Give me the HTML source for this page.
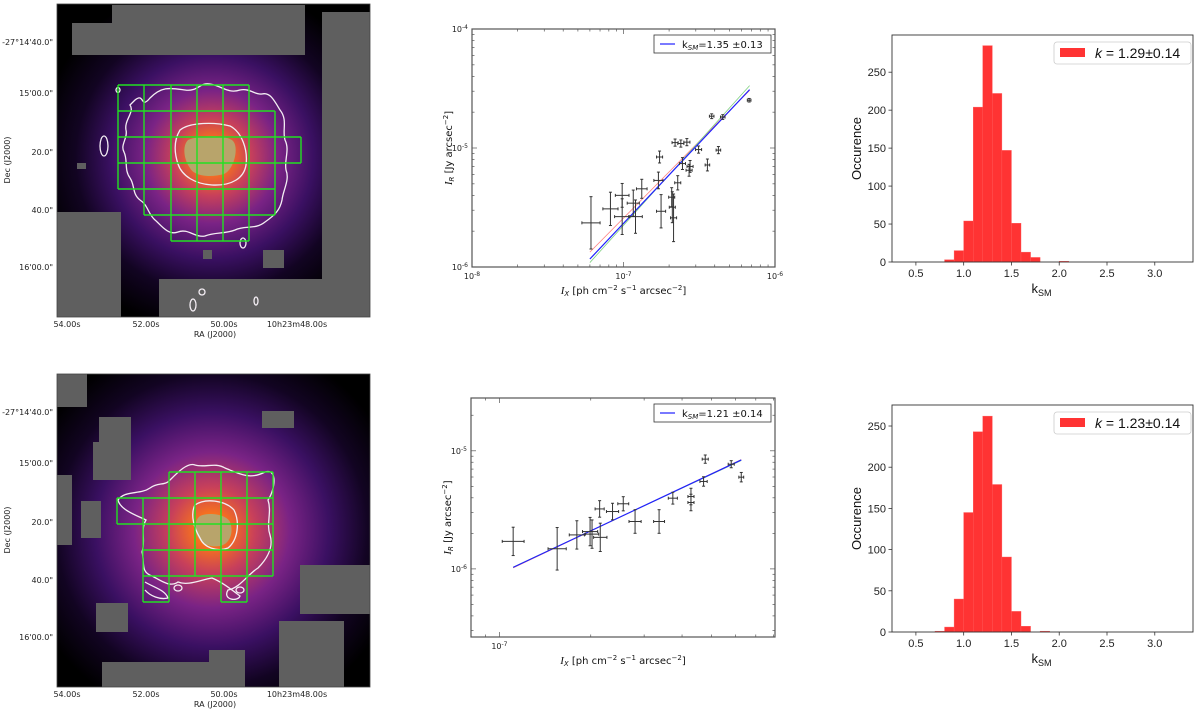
<!DOCTYPE html>
<html><head><meta charset="utf-8">
<style>
html,body{margin:0;padding:0;background:#fff;}
svg{display:block;font-family:"DejaVu Sans","Liberation Sans",sans-serif;}
</style></head>
<body>
<svg id="fig" width="1200" height="711" viewBox="0 0 1200 711" xmlns="http://www.w3.org/2000/svg">
<defs>
  <radialGradient id="glowTop" cx="212" cy="157" r="175" gradientUnits="userSpaceOnUse">
    <stop offset="0" stop-color="#ffa800"/>
    <stop offset="0.1" stop-color="#f57020"/>
    <stop offset="0.22" stop-color="#c8405a"/>
    <stop offset="0.38" stop-color="#7a2385"/>
    <stop offset="0.58" stop-color="#3a1062"/>
    <stop offset="0.78" stop-color="#120422"/>
    <stop offset="1" stop-color="#000"/>
  </radialGradient>
  <radialGradient id="glowBot" cx="212" cy="530" r="195" gradientUnits="userSpaceOnUse">
    <stop offset="0" stop-color="#ffa800"/>
    <stop offset="0.09" stop-color="#f57020"/>
    <stop offset="0.22" stop-color="#c8405a"/>
    <stop offset="0.4" stop-color="#7a2385"/>
    <stop offset="0.6" stop-color="#3a1062"/>
    <stop offset="0.8" stop-color="#120422"/>
    <stop offset="1" stop-color="#000"/>
  </radialGradient>
</defs>

<!-- TOP IMAGE -->
<g>
  <rect x="57" y="4" width="313" height="313" fill="url(#glowTop)"/>
  <g fill="#5f5f5f">
    <path d="M112,5 H305 V55 H72 V23 H112 Z"/>
    <rect x="322" y="12" width="48" height="305"/>
    <rect x="57" y="212" width="64" height="105"/>
    <rect x="159" y="279" width="165" height="38"/>
    <rect x="77" y="163" width="9" height="6"/>
    <rect x="203" y="250" width="9" height="9"/>
    <rect x="263" y="250" width="21" height="18"/>
  </g>
  <path d="M188,140 C196,136 222,134 232,140 C240,146 234,170 224,174 C210,178 194,176 190,168 C184,160 182,146 188,140Z" fill="#b8a46b"/>
  <g fill="none" stroke="#f4eef4" stroke-width="1.3">
    <path d="M135,100 C145,92 140,110 150,98 C162,86 170,88 185,90 C198,92 200,82 210,84 C222,86 228,94 240,90 C250,88 255,95 262,94 C270,92 274,100 280,110 C288,120 282,130 285,140 C290,150 284,160 286,170 C290,180 283,190 282,200 C280,210 275,215 265,222 C255,230 245,225 235,230 C225,234 215,232 205,236 C195,238 188,228 178,232 C168,236 160,224 155,220 C148,214 148,205 140,200 C132,194 135,185 130,178 C124,170 128,160 124,152 C120,145 128,138 126,130 C124,120 135,112 130,105 Z"/>
    <path d="M180,130 C190,122 215,122 230,126 C242,132 248,150 246,165 C244,178 232,186 212,185 C195,184 182,176 178,164 C174,152 174,140 180,130 Z"/>
    <ellipse cx="104" cy="146" rx="4" ry="10"/>
    <ellipse cx="118" cy="90" rx="2" ry="2.5"/>
    <ellipse cx="243" cy="243" rx="3" ry="5"/>
    <ellipse cx="193" cy="305" rx="3" ry="6"/>
    <ellipse cx="202" cy="292" rx="3" ry="3"/>
    <ellipse cx="256" cy="301" rx="2" ry="4"/>
  </g>
  <g fill="none" stroke="#22e022" stroke-width="1.4">
    <path d="M118,85 H249 M118,111 H275 M118,137 H301 M118,163 H301 M118,189 H275 M144,215 H275 M171,241 H249"/>
    <path d="M118,85 V189 M144,85 V215 M171,85 V241 M197,85 V241 M223,85 V241 M249,85 V241 M275,111 V215 M301,137 V163"/>
  </g>
  <rect x="57" y="4" width="313" height="313" fill="none" stroke="#444" stroke-width="0.8"/>
  <g font-size="8" fill="#222" text-anchor="end">
    <text x="53" y="45">-27°14'40.0"</text><text x="53" y="96">15'00.0"</text>
    <text x="53" y="155">20.0"</text><text x="53" y="213">40.0"</text><text x="53" y="270">16'00.0"</text>
  </g>
  <g font-size="8" fill="#222" text-anchor="middle">
    <text x="67" y="327">54.00s</text><text x="146" y="327">52.00s</text>
    <text x="224" y="327">50.00s</text><text x="297" y="327">10h23m48.00s</text>
    <text x="215" y="337">RA (J2000)</text>
  </g>
  <text transform="translate(10,160) rotate(-90)" font-size="8" fill="#222" text-anchor="middle">Dec (J2000)</text>
</g>

<!-- BOTTOM IMAGE -->
<g>
  <rect x="57" y="374" width="313" height="313" fill="url(#glowBot)"/>
  <g fill="#5f5f5f">
    <rect x="57" y="374" width="30" height="33"/>
    <path d="M99,417 H131 V480 H93 V442 H99 Z"/>
    <rect x="57" y="475" width="15" height="70"/>
    <rect x="81" y="501" width="20" height="37"/>
    <rect x="262" y="411" width="32" height="17"/>
    <rect x="300" y="565" width="70" height="49"/>
    <rect x="279" y="621" width="65" height="66"/>
    <rect x="96" y="603" width="32" height="29"/>
    <path d="M102,662 H209 V650 H245 V687 H102 Z"/>
  </g>
  <path d="M200,516 C208,512 226,514 230,522 C234,532 230,544 220,546 C208,548 198,542 196,532 C195,524 196,519 200,516Z" fill="#b8a46b"/>
  <g fill="none" stroke="#f4eef4" stroke-width="1.3">
    <path d="M170,480 C178,472 188,462 195,465 C205,468 215,462 225,468 C240,474 250,480 265,472 C278,468 275,490 268,500 C272,512 266,524 270,535 C274,548 266,560 258,568 C248,574 240,588 228,590 C222,600 238,602 240,596 C232,590 222,582 212,578 C200,580 188,586 178,582 C170,588 160,580 152,576 C140,572 145,562 142,552 C146,540 140,530 146,520 C138,516 120,510 118,500 C125,490 140,495 150,488 C158,482 165,486 170,480 Z"/>
    <path d="M195,505 C205,498 225,500 234,510 C240,522 238,540 228,548 C218,552 204,548 200,538 C194,528 190,514 195,505 Z"/>
    <ellipse cx="178" cy="588" rx="4" ry="3"/>
    <ellipse cx="240" cy="590" rx="4" ry="3"/>
    <path d="M145,582 C155,588 165,590 168,598 C160,600 150,596 145,590"/>
  </g>
  <g fill="none" stroke="#22e022" stroke-width="1.4">
    <path d="M169,472 H273 M117,498 H273 M117,524 H273 M143,550 H273 M143,576 H273 M143,602 H169 M221,602 H247"/>
    <path d="M117,498 V524 M143,498 V602 M169,472 V602 M195,472 V576 M221,472 V602 M247,472 V602 M273,472 V576"/>
  </g>
  <rect x="57" y="374" width="313" height="313" fill="none" stroke="#444" stroke-width="0.8"/>
  <g font-size="8" fill="#222" text-anchor="end">
    <text x="53" y="415">-27°14'40.0"</text><text x="53" y="466">15'00.0"</text>
    <text x="53" y="525">20.0"</text><text x="53" y="583">40.0"</text><text x="53" y="640">16'00.0"</text>
  </g>
  <g font-size="8" fill="#222" text-anchor="middle">
    <text x="67" y="697">54.00s</text><text x="146" y="697">52.00s</text>
    <text x="224" y="697">50.00s</text><text x="297" y="697">10h23m48.00s</text>
    <text x="215" y="707">RA (J2000)</text>
  </g>
  <text transform="translate(10,530) rotate(-90)" font-size="8" fill="#222" text-anchor="middle">Dec (J2000)</text>
</g>

<g id="charts"></g>
</svg>

<script>
// ---- Scatter 1 data (top) ----
const s1X = [6.1e-8,8.2e-8,9.8e-8,9.8e-8,1.16e-7,1.2e-7,1.32e-7,1.73e-7,1.7e-7,1.77e-7,2.08e-7,2.1e-7,2.14e-7,2.19e-7,2.39e-7,2.62e-7,2.28e-7,2.45e-7,2.71e-7,2.75e-7,3.13e-7,3.58e-7,3.82e-7,4.23e-7,4.52e-7,6.75e-7];
const s1Y = [2.35e-6,3.08e-6,4.0e-6,2.65e-6,3.44e-6,2.65e-6,4.54e-6,8.4e-6,5.34e-6,2.94e-6,3.86e-6,3.18e-6,2.59e-6,1.11e-5,1.09e-5,1.12e-5,5.1e-6,7.4e-6,6.5e-6,7.0e-6,9.7e-6,7.2e-6,1.85e-5,9.6e-6,1.82e-5,2.52e-5];
const s1Xerr = [0.06,0.05,0.045,0.05,0.04,0.045,0.035,0.02,0.03,0.03,0.02,0.02,0.02,0.02,0.02,0.02,0.02,0.02,0.02,0.02,0.02,0.015,0.015,0.015,0.015,0.012];
const s1Yerr = [0.22,0.14,0.1,0.15,0.11,0.14,0.08,0.05,0.07,0.14,0.08,0.13,0.2,0.03,0.03,0.03,0.06,0.05,0.05,0.05,0.03,0.05,0.02,0.03,0.02,0.015];
const s1Fit = {blue:[5.93e-6,1.35],red:[6.3e-6,1.29],green:[5.95e-6,1.41]};
const s1Range = [6.0e-8,6.8e-7];
const s1Xticks = [1e-8,1e-7,1e-6];
const s1XtickExp = ["-8","-7","-6"];
const s1Yticks = [1e-6,1e-5,1e-4];
const s1YtickExp = ["-6","-5","-4"];

// ---- Scatter 2 data (bottom) ----
const s2X = [1.11e-7,1.55e-7,1.8e-7,1.99e-7,2.02e-7,2.15e-7,2.14e-7,2.36e-7,2.56e-7,2.8e-7,3.36e-7,3.73e-7,4.28e-7,4.28e-7,4.71e-7,4.77e-7,5.81e-7,6.27e-7];
const s2Y = [1.71e-6,1.48e-6,1.94e-6,2.07e-6,1.97e-6,1.85e-6,3.22e-6,3.06e-6,3.56e-6,2.52e-6,2.52e-6,3.97e-6,4.1e-6,3.65e-6,5.5e-6,8.5e-6,7.7e-6,5.98e-6];
const s2Xerr = [0.036,0.03,0.025,0.025,0.022,0.022,0.015,0.02,0.018,0.02,0.018,0.015,0.01,0.01,0.012,0.01,0.01,0.008];
const s2Yerr = [0.12,0.18,0.12,0.12,0.12,0.12,0.07,0.07,0.06,0.1,0.1,0.05,0.07,0.07,0.04,0.035,0.03,0.04];
const s2Fit = {blue:[2.1e-6,1.21],red:[2.09e-6,1.22],green:[2.1e-6,1.2]};
const s2Range = [1.11e-7,6.27e-7];
const s2Xticks = [1e-7];
const s2XtickExp = ["-7"];
const s2Yticks = [1e-6,1e-5];
const s2YtickExp = ["-6","-5"];

// ---- Histogram data ----
const h1Start = 0.8;
const h1Counts = [3,15,54,204,285,222,147,51,13,6,0,0,1];
const h2Start = 0.7;
const h2Counts = [1,6,40,145,243,262,179,91,25,7,0,1];
const binWidth = 0.1;
const histXticks = [0.5,1.0,1.5,2.0,2.5,3.0];
const histYticks1 = [0,50,100,150,200,250];
const histYticks2 = [0,50,100,150,200,250];

const NS = "http://www.w3.org/2000/svg";
const root = document.getElementById('charts');
function mk(tag, attrs, parent){
  const e = document.createElementNS(NS, tag);
  for (const k in attrs) e.setAttribute(k, attrs[k]);
  (parent||root).appendChild(e);
  return e;
}

function scatter(cfg){
  const g = mk('g', {});
  
  
  const L=cfg.L,R=cfg.R,T=cfg.T,B=cfg.B;
  const lx0=Math.log10(cfg.xmin), lx1=Math.log10(cfg.xmax), ly0=Math.log10(cfg.ymin), ly1=Math.log10(cfg.ymax);
  const sx = v => L + (Math.log10(v)-lx0)/(lx1-lx0)*(R-L);
  const sy = v => B - (Math.log10(v)-ly0)/(ly1-ly0)*(B-T);
  const frame = mk('rect',{x:L,y:T,width:R-L,height:B-T,fill:'none',stroke:'#555','stroke-width':1.2},g);
  
  
  for (let d=Math.floor(lx0); d<=Math.ceil(lx1); d++){
    for (let m=1;m<10;m++){
      const v=m*Math.pow(10,d);
      if (Math.log10(v)<lx0-1e-9||Math.log10(v)>lx1+1e-9) continue;
      const x=sx(v), len=m===1?5:2.5;
      mk('line',{x1:x,x2:x,y1:B,y2:B-len,stroke:'#555','stroke-width':0.7},g);
      mk('line',{x1:x,x2:x,y1:T,y2:T+len,stroke:'#555','stroke-width':0.7},g);
    }
  }
  for (let d=Math.floor(ly0); d<=Math.ceil(ly1); d++){
    for (let m=1;m<10;m++){
      const v=m*Math.pow(10,d);
      if (Math.log10(v)<ly0-1e-9||Math.log10(v)>ly1+1e-9) continue;
      const y=sy(v), len=m===1?5:2.5;
      mk('line',{x1:L,x2:L+len,y1:y,y2:y,stroke:'#555','stroke-width':0.7},g);
      mk('line',{x1:R,x2:R-len,y1:y,y2:y,stroke:'#555','stroke-width':0.7},g);
    }
  }
  cfg.xt.forEach((v,i)=>{
    const t=mk('text',{x:sx(v),y:B+12,'font-size':8,'text-anchor':'middle',fill:'#222'},g);
    t.textContent='10';
    const s=mk('tspan',{dy:-3,'font-size':6},t); s.textContent=cfg.xte[i];
    
    
  });
  cfg.yt.forEach((v,i)=>{
    const t=mk('text',{x:L-4,y:sy(v)+3,'font-size':8,'text-anchor':'end',fill:'#222'},g);
    t.textContent='10';
    const s=mk('tspan',{dy:-3,'font-size':6},t); s.textContent=cfg.yte[i];
    
    
  });
  const cols={red:'#ff8080',green:'#80d080',blue:'#2020ff'};
  ['red','green','blue'].forEach(c=>{
    const [A,k]=cfg.fit[c];
    const f=v=>A*Math.pow(v/cfg.x0,k);
    const ln=mk('line',{x1:sx(cfg.range[0]),y1:sy(f(cfg.range[0])),x2:sx(cfg.range[1]),y2:sy(f(cfg.range[1])),stroke:cols[c],'stroke-width':c==='blue'?1.2:0.8},g);
    
    
  });
  cfg.xs.forEach((xv,i)=>{
    const yv=cfg.ys[i], ex=cfg.xe[i], ey=cfg.ye[i];
    const pg=mk('g',{stroke:'#333','stroke-width':1},g);
    
    
    const x1=sx(xv*Math.pow(10,-ex)), x2=sx(xv*Math.pow(10,ex));
    const y1=sy(yv*Math.pow(10,-ey)), y2=sy(yv*Math.pow(10,ey));
    const cx=sx(xv), cy=sy(yv);
    mk('line',{x1:x1,x2:x2,y1:cy,y2:cy},pg);
    mk('line',{x1:cx,x2:cx,y1:y1,y2:y2},pg);
    mk('line',{x1:cx-1.5,x2:cx+1.5,y1:y1,y2:y1},pg);
    mk('line',{x1:cx-1.5,x2:cx+1.5,y1:y2,y2:y2},pg);
    mk('line',{x1:x1,x2:x1,y1:cy-1.5,y2:cy+1.5},pg);
    mk('line',{x1:x2,x2:x2,y1:cy-1.5,y2:cy+1.5},pg);
  });
  const lg=mk('g',{},g);
  
  
  mk('rect',{x:cfg.lgx,y:cfg.lgy,width:117,height:18,fill:'#fff',stroke:'#333','stroke-width':0.8},lg);
  mk('line',{x1:cfg.lgx+6,x2:cfg.lgx+21,y1:cfg.lgy+9,y2:cfg.lgy+9,stroke:'#2020ff','stroke-width':1.2},lg);
  const lt=mk('text',{x:cfg.lgx+28,y:cfg.lgy+13,'font-size':10,fill:'#111'},lg);
  lt.textContent='k';
  const sb=mk('tspan',{dy:2,'font-size':7,'font-style':'italic'},lt); sb.textContent='SM';
  const rest=mk('tspan',{dy:-2},lt); rest.textContent=cfg.label;
  const xt=mk('text',{x:(L+R)/2,y:B+27,'font-size':10,'text-anchor':'middle',fill:'#111'},g);
  
  
  const a=mk('tspan',{'font-style':'italic','font-family':'Liberation Serif, serif','font-size':11},xt); a.textContent='I';
  const a2=mk('tspan',{'font-style':'italic','font-size':7,dy:2},xt); a2.textContent='X';
  const a3=mk('tspan',{dy:-2},xt); a3.textContent=' [ph cm';
  const a4=mk('tspan',{dy:-4,'font-size':7},xt); a4.textContent='−2';
  const a5=mk('tspan',{dy:4},xt); a5.textContent=' s';
  const a6=mk('tspan',{dy:-4,'font-size':7},xt); a6.textContent='−1';
  const a7=mk('tspan',{dy:4},xt); a7.textContent='  arcsec';
  const a8=mk('tspan',{dy:-4,'font-size':7},xt); a8.textContent='−2';
  const a9=mk('tspan',{dy:4},xt); a9.textContent=']';
  const yt=mk('text',{transform:`translate(${L-20},${(T+B)/2}) rotate(-90)`,'font-size':10,'text-anchor':'middle',fill:'#111'},g);
  
  
  const b=mk('tspan',{'font-style':'italic','font-family':'Liberation Serif, serif','font-size':11},yt); b.textContent='I';
  const b2=mk('tspan',{'font-style':'italic','font-size':7,dy:2},yt); b2.textContent='R';
  const b3=mk('tspan',{dy:-2},yt); b3.textContent=' [Jy arcsec';
  const b4=mk('tspan',{dy:-4,'font-size':7},yt); b4.textContent='−2';
  const b5=mk('tspan',{dy:4},yt); b5.textContent=']';
}

function hist(cfg){
  const g=mk('g',{});
  
  
  const L=892,R=1193,T=cfg.T,B=cfg.B;
  const xmin=0.25,xmax=3.4,ymax=cfg.ymax;
  const sx=v=>L+(v-xmin)/(xmax-xmin)*(R-L);
  const sy=v=>B-v/ymax*(B-T);
  cfg.counts.forEach((c,i)=>{
    if(c<=0) return;
    const x0=cfg.start+i*binWidth;
    const r=mk('rect',{x:sx(x0),y:sy(c),width:sx(x0+binWidth)-sx(x0),height:B-sy(c),fill:'#ff3333',stroke:'#ff5a5a','stroke-width':0.4},g);
    
    
  });
  mk('rect',{x:L,y:T,width:R-L,height:B-T,fill:'none',stroke:'#333','stroke-width':0.9},g);
  histXticks.forEach(v=>{
    mk('line',{x1:sx(v),x2:sx(v),y1:B,y2:B+3.5,stroke:'#333','stroke-width':0.8},g);
    const t=mk('text',{x:sx(v),y:B+15,'font-size':11,'text-anchor':'middle',fill:'#222','font-family':'Liberation Sans, sans-serif'},g);
    t.textContent=v.toFixed(1);
    
    
  });
  cfg.yt.forEach(v=>{
    mk('line',{x1:L,x2:L-3.5,y1:sy(v),y2:sy(v),stroke:'#333','stroke-width':0.8},g);
    const t=mk('text',{x:L-6,y:sy(v)+4,'font-size':11,'text-anchor':'end',fill:'#222','font-family':'Liberation Sans, sans-serif'},g);
    t.textContent=String(v);
    
    
  });
  const xt=mk('text',{x:(L+R)/2-1,y:B+31,'font-size':13,'text-anchor':'middle',fill:'#111','font-family':'Liberation Sans, sans-serif'},g);
  
  
  xt.textContent='k';
  const s=mk('tspan',{dy:3,'font-size':9},xt); s.textContent='SM';
  const yt=mk('text',{transform:`translate(861,${(T+B)/2}) rotate(-90)`,'font-size':13,'text-anchor':'middle',fill:'#111','font-family':'Liberation Sans, sans-serif'},g);
  
  
  yt.textContent='Occurence';
  const lg=mk('g',{},g);
  
  
  mk('rect',{x:1054,y:T+7,width:137,height:22,rx:3,fill:'#fff',stroke:'#ccc','stroke-width':0.8},lg);
  mk('rect',{x:1060,y:T+13,width:25,height:9,fill:'#ff3333'},lg);
  const lt=mk('text',{x:1095,y:T+23,'font-size':14,fill:'#111','font-family':'Liberation Sans, sans-serif'},lg);
  const k=mk('tspan',{'font-style':'italic'},lt); k.textContent='k';
  const r=mk('tspan',{},lt); r.textContent=cfg.label;
}

scatter({name:'scatter-top',L:472,R:775,T:29,B:267,xmin:1e-8,xmax:1e-6,ymin:1e-6,ymax:1e-4,
  xs:s1X,ys:s1Y,xe:s1Xerr,ye:s1Yerr,fit:s1Fit,x0:2e-7,range:s1Range,
  xt:s1Xticks,xte:s1XtickExp,yt:s1Yticks,yte:s1YtickExp,lgx:654,lgy:35,label:'=1.35 ±0.13'});
scatter({name:'scatter-bottom',L:471,R:775,T:398,B:637,xmin:0.806e-7,xmax:8.1e-7,ymin:2.65e-7,ymax:2.8e-5,
  xs:s2X,ys:s2Y,xe:s2Xerr,ye:s2Yerr,fit:s2Fit,x0:2e-7,range:s2Range,
  xt:s2Xticks,xte:s2XtickExp,yt:s2Yticks,yte:s2YtickExp,lgx:654,lgy:404,label:'=1.21 ±0.14'});
hist({name:'histogram-top',T:35,B:262,ymax:299,counts:h1Counts,start:h1Start,yt:histYticks1,label:' = 1.29±0.14'});
hist({name:'histogram-bottom',T:405,B:632,ymax:275.5,counts:h2Counts,start:h2Start,yt:histYticks2,label:' = 1.23±0.14'});
</script>
</body></html>
